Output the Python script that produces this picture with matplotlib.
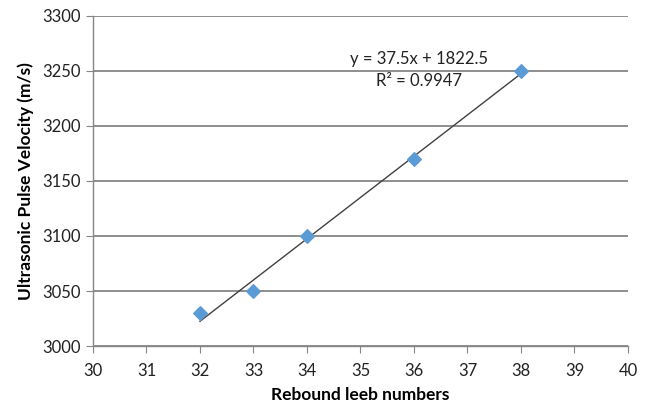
import matplotlib.pyplot as plt
import numpy as np

plt.rcParams['font.family'] = ['Lato', 'DejaVu Sans']

# ===== Data =====
rebound = [32, 33, 34, 36, 38]
velocity = [3030, 3050, 3100, 3170, 3250]
x_ticks = list(range(30, 41))
y_ticks = list(range(3000, 3301, 50))

fig = plt.figure(figsize=(6.48, 4.09), dpi=100)
ax = fig.add_axes([0.1435, 0.154, 0.8255, 0.807])

grid_c = "#868686"
ax.set_xlim(30, 40)
ax.set_ylim(3000, 3300)
ax.set_xticks(x_ticks)
ax.set_yticks(y_ticks)
ax.yaxis.grid(True, color=grid_c, linewidth=1.3)
ax.set_axisbelow(True)
for s in ["top", "right"]:
    ax.spines[s].set_visible(False)
for s in ["left", "bottom"]:
    ax.spines[s].set_color(grid_c)
    ax.spines[s].set_linewidth(1.0)
ax.tick_params(axis="both", direction="out", length=5, color=grid_c,
               labelsize=12, labelcolor="#222222")
ax.tick_params(axis="x", pad=7)

# trendline (linear fit)
slope, intercept = np.polyfit(rebound, velocity, 1)
xs = np.array([min(rebound), max(rebound)])
ax.plot(xs, slope * xs + intercept, color="#404040", linewidth=1.0, zorder=2)
pred = slope * np.array(rebound) + intercept
r2 = 1 - np.sum((np.array(velocity) - pred) ** 2) / np.sum((np.array(velocity) - np.mean(velocity)) ** 2)

ax.scatter(rebound, velocity, marker="D", s=48, color="#5B9BD5", zorder=3)

ax.text(36.1, 3261, f"y = {slope:.1f}x + {intercept:.1f}", ha="center", va="center",
        fontsize=12, color="#222222")
ax.text(36.1, 3241, f"R² = {r2:.4f}", ha="center", va="center",
        fontsize=12, color="#222222")

ax.set_xlabel("Rebound leeb numbers", fontsize=12.5, fontweight="bold", labelpad=6)
ax.set_ylabel("Ultrasonic Pulse Velocity (m/s)", fontsize=12.5, fontweight="bold", labelpad=6)

fig.savefig("out.png", dpi=100)
